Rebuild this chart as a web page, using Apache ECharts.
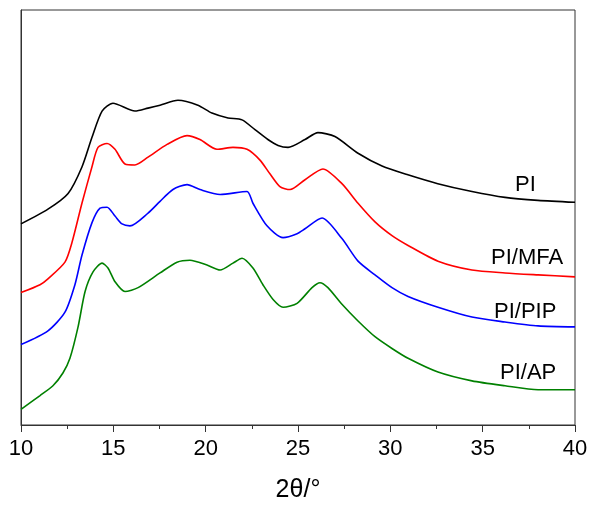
<!DOCTYPE html>
<html>
<head>
<meta charset="utf-8">
<script src="https://cdn.jsdelivr.net/npm/echarts@6/dist/echarts.min.js"></script>
<style>
html,body{margin:0;padding:0;background:#fff;}
#chart{width:591px;height:508px;}
</style>
</head>
<body>
<div id="chart"></div>
<script>
// 2theta (deg) and intensity (a.u., offset-stacked)
var piTheta = [10.0,11.46,12.55,13.30,13.84,14.39,14.98,16.17,16.88,17.53,18.50,19.58,20.34,21.21,21.97,22.67,23.37,23.92,24.46,25.38,26.08,27.00,28.25,29.55,30.95,32.57,34.42,36.21,37.99,40.0];
var piInt   = [205,220,236,263,293,320,328,320,323,326,331,326,318,313,311,301,291,285,283,291,298,294,277,264,255,246,238,232,229,227];

var mfaTheta = [10.0,11.03,11.46,12.38,12.76,13.30,13.84,14.17,14.66,15.09,15.63,16.17,16.88,17.91,18.99,19.69,20.61,21.48,22.24,22.94,23.48,24.02,24.57,25.38,26.35,27.38,28.25,29.17,30.09,30.96,32.58,34.42,36.21,38.0,40.0];
var mfaInt   = [135,143,149,166,186,226,263,283,287,281,266,265,273,286,295,291,281,283,281,270,256,243,240,250,261,246,226,207,193,183,167,158,155,153,151];

var pipTheta = [10.0,11.46,12.38,12.92,13.30,13.84,14.28,14.66,15.09,15.47,15.90,16.88,17.53,18.23,18.99,19.69,20.78,22.24,22.56,23.32,24.19,24.95,25.38,26.30,27.38,28.25,29.17,30.09,30.96,32.58,34.42,36.21,38.0,40.0];
var pipInt   = [82,96,115,143,173,206,221,222,213,205,203,216,228,240,245,240,235,238,226,203,191,195,200,211,190,167,153,140,131,120,110,105,101,100];

var apTheta = [10.0,11.03,11.73,12.27,12.65,13.09,13.47,13.90,14.39,14.71,15.09,15.63,16.34,17.53,18.45,19.15,20.07,20.78,21.48,21.97,22.56,23.10,23.65,24.19,24.95,25.76,26.19,26.62,27.38,28.25,29.17,30.09,30.96,32.58,34.42,36.21,38.0,40.0];
var apInt   = [16,30,40,53,68,100,136,156,165,160,146,136,140,155,166,168,163,158,165,170,160,143,128,120,124,140,145,140,123,106,90,78,68,54,45,40,36,36];

var seriesNames = ['PI','PI/MFA','PI/PIP','PI/AP'];
var seriesColors = ['#000000','#ff0000','#0000ff','#008000'];

function pairs(xs, ys){ return xs.map(function(x,i){ return [x, ys[i]]; }); }
var allData = [pairs(piTheta,piInt), pairs(mfaTheta,mfaInt), pairs(pipTheta,pipInt), pairs(apTheta,apInt)];

var FONT = '"Liberation Sans", Arial, sans-serif';
var chart = echarts.init(document.getElementById('chart'), null, {renderer:'canvas'});
chart.setOption({
  animation:false,
  backgroundColor:'#fff',
  grid:{left:21,right:16,top:10,bottom:75,show:true,borderColor:'#333',borderWidth:1,backgroundColor:'transparent'},
  xAxis:{
    type:'value', min:10, max:40, interval:5,
    axisLine:{show:true,lineStyle:{color:'#333',width:1}},
    axisTick:{show:true,inside:false,length:7,lineStyle:{color:'#333'}},
    minorTick:{show:true,splitNumber:2,length:4,lineStyle:{color:'#333'}},
    splitLine:{show:false},
    axisLabel:{fontSize:22,color:'#000',fontFamily:FONT,margin:13},
    name:'2θ/°', nameLocation:'middle', nameGap:53,
    nameTextStyle:{fontSize:25,color:'#000',fontFamily:FONT}
  },
  yAxis:{
    type:'value', min:0, max:423,
    axisLine:{show:true,lineStyle:{color:'#333',width:1}},
    axisTick:{show:false}, axisLabel:{show:false}, splitLine:{show:false}
  },
  series: seriesNames.map(function(n,i){
    return {name:n,type:'line',data:allData[i],showSymbol:false,symbol:'none',smooth:0.25,
      lineStyle:{color:seriesColors[i],width:1.6},z:2};
  }),
  graphic:[
    {type:'text',left:515,top:174,style:{text:'PI',font:'22px '+FONT,fill:'#000'}},
    {type:'text',left:491,top:247,style:{text:'PI/MFA',font:'22px '+FONT,fill:'#000'}},
    {type:'text',left:494,top:301,style:{text:'PI/PIP',font:'22px '+FONT,fill:'#000'}},
    {type:'text',left:500,top:362,style:{text:'PI/AP',font:'22px '+FONT,fill:'#000'}}
  ]
});
</script>
</body>
</html>
